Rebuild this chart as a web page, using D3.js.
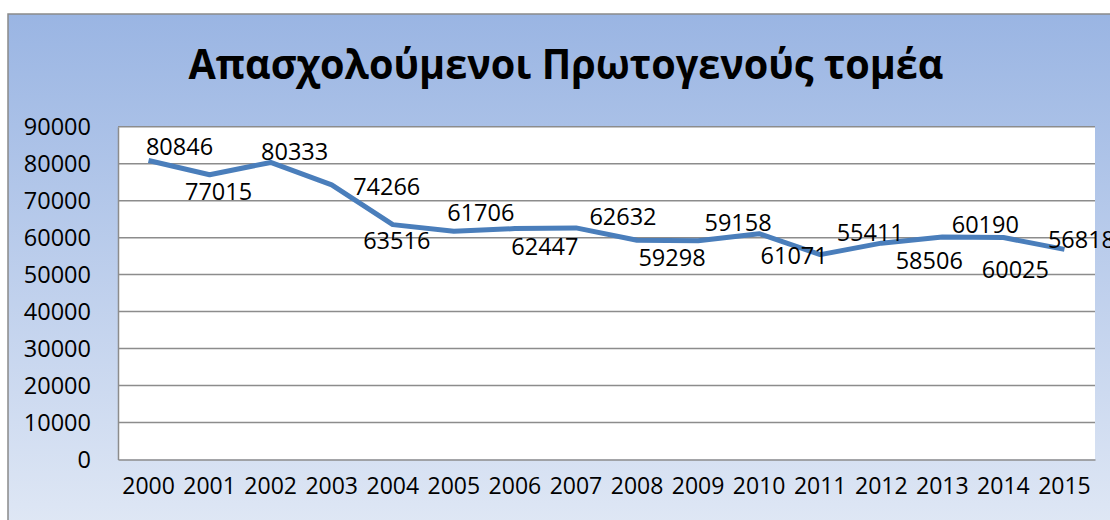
<!DOCTYPE html>
<html>
<head>
<meta charset="utf-8">
<script src="https://cdn.jsdelivr.net/npm/d3@7"></script>
<style>
html,body{margin:0;padding:0;background:#fff;}
svg{display:block;}
text{font-family:"Open Sans","Noto Sans",sans-serif;fill:#000;}
</style>
</head>
<body>
<svg id="chart" width="1110" height="520"></svg>
<script>
const title = "Απασχολούμενοι Πρωτογενούς τομέα";
const years = ["2000","2001","2002","2003","2004","2005","2006","2007","2008","2009","2010","2011","2012","2013","2014","2015"];
const employed = [80846,77015,80333,74266,63516,61706,62447,62632,59298,59158,61071,55411,58506,60190,60025,56818];
const yTicks = [0,10000,20000,30000,40000,50000,60000,70000,80000,90000];
// label placement offsets (px) relative to each point, as in the reference
const labelOffsets = [[31,-15],[9,16],[24,-11],[55,1],[4,15],[27,-19],[30,17],[47,-12],[35,17],[40,-19],[35,21],[50,-23],[48,17],[43,-13],[12,31],[17,-10]];

const svg = d3.select("#chart");
const plot = {left:118, right:1095, top:126.7, bottom:459.5};

// background gradient
const defs = svg.append("defs");
const grad = defs.append("linearGradient").attr("id","bg").attr("x1",0).attr("y1",0).attr("x2",0).attr("y2",1);
grad.append("stop").attr("offset","0%").attr("stop-color","#9ab5e3");
grad.append("stop").attr("offset","100%").attr("stop-color","#e0e8f5");

svg.append("rect").attr("x",8).attr("y",14).attr("width",1110).attr("height",520)
  .attr("fill","url(#bg)").attr("stroke","#8a8a8a").attr("stroke-width",1.5);

// title
svg.append("text").attr("x",566).attr("y",79).attr("text-anchor","middle")
  .style("font-weight","bold").style("font-size","42px")
  .attr("textLength",755).attr("lengthAdjust","spacingAndGlyphs").text(title);

const x = d3.scaleBand().domain(years).range([plot.left, plot.right]);
const y = d3.scaleLinear().domain([0,90000]).range([plot.bottom, plot.top]);

// plot area
svg.append("rect").attr("x",plot.left).attr("y",plot.top).attr("width",plot.right-plot.left)
  .attr("height",plot.bottom-plot.top).attr("fill","#fff");

// gridlines
svg.append("g").selectAll("line").data(yTicks.filter(d=>d>0)).join("line")
  .attr("x1",plot.left).attr("x2",plot.right)
  .attr("y1",d=>y(d)).attr("y2",d=>y(d))
  .attr("stroke","#8c8c8c").attr("stroke-width",1.5);

// y axis
const yAxis = svg.append("g").attr("transform",`translate(${plot.left},0)`)
  .call(d3.axisLeft(y).tickValues(yTicks).tickSize(0).tickPadding(27).tickFormat(d3.format("d")));
yAxis.select(".domain").attr("stroke","#8c8c8c").attr("stroke-width",1.5);
yAxis.selectAll("text").style("font-size","23.5px").attr("fill","#000").attr("font-family",null);

// x axis
const xAxis = svg.append("g").attr("transform",`translate(0,${plot.bottom})`)
  .call(d3.axisBottom(x).tickSize(0).tickPadding(18));
xAxis.select(".domain").attr("stroke","#8c8c8c").attr("stroke-width",1.5);
xAxis.selectAll("text").style("font-size","23px").attr("fill","#000").attr("font-family",null);

// line
const line = d3.line().x((d,i)=>x(years[i])+x.bandwidth()/2).y(d=>y(d));
svg.append("path").datum(employed).attr("d",line).attr("fill","none")
  .attr("stroke","#4a7ebb").attr("stroke-width",5).attr("stroke-linejoin","round");

// data labels
svg.append("g").selectAll("text").data(employed).join("text")
  .attr("x",(d,i)=>x(years[i])+x.bandwidth()/2+labelOffsets[i][0])
  .attr("y",(d,i)=>y(d)+labelOffsets[i][1])
  .attr("text-anchor","middle").attr("dominant-baseline","central")
  .style("font-size","23.5px").text(d=>d);
</script>
</body>
</html>
